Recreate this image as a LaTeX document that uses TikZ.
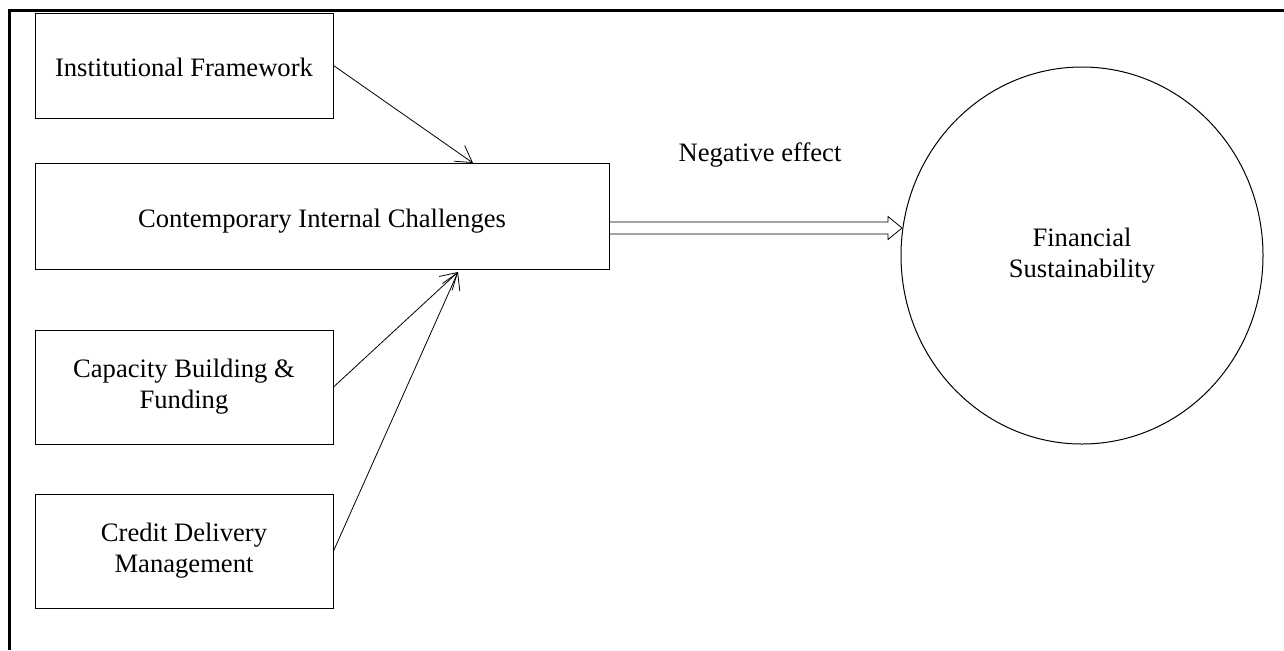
\documentclass[tikz,border=0pt]{standalone}
\usepackage{fontspec}
\setmainfont{Liberation Serif}
\usetikzlibrary{arrows.meta,shapes.geometric,calc}
\begin{document}
\begin{tikzpicture}[x=0.5pt,y=-0.5pt]
        \tikzstyle{caixa}=[draw=black, line width=0.5pt, rectangle, align=center, inner sep=0pt, font=\fontsize{13.3}{15.5}\selectfont]
        \tikzstyle{linha}=[text height=12pt, text depth=0.6pt]
        \tikzstyle{seta}=[line width=0.4pt, -{Straight Barb[length=8pt, width=9.5pt]}]

        \useasboundingbox (0,0) rectangle (1284,650);

        % moldura
        \draw[line width=1.5pt] (9,650) -- (9,10) -- (1284,10);

        \node[caixa, linha, minimum width=149pt, minimum height=52.5pt] (inst) at (184,65.5) {Institutional Framework};
        \node[caixa, linha, minimum width=287pt, minimum height=53pt] (ch) at (322,216) {Contemporary Internal Challenges};
        \node[caixa, minimum width=149pt, minimum height=57pt] (cap) at (184,387) {Capacity Building \&\\Funding};
        \node[caixa, minimum width=149pt, minimum height=57pt] (cred) at (184,551) {Credit Delivery\\Management};

        \node[caixa, ellipse, minimum width=181pt, minimum height=188.5pt] (fs) at (1082,255.5) {Financial\\Sustainability};

        \coordinate (p1) at (473,163);
        \coordinate (p2) at (458,272);

        \draw[seta] (inst.east) -- (p1);
        \draw[seta] (cap.east) -- (p2);
        \draw[seta] (cred.east) -- (p2);

        % seta dupla
        \coordinate (s) at ($(ch.east)+(0,12)$);
        \coordinate (t) at (902,228);
        \draw[line width=0.4pt] ($(s)+(0,-6)$) -- ($(t)+(-14,-6)$) -- ($(t)+(-14,-11.5)$) -- (t)
              -- ($(t)+(-14,11.5)$) -- ($(t)+(-14,6)$) -- ($(s)+(0,6)$);

        \node[font=\fontsize{13.3}{15.5}\selectfont] (neg) at (760,155) {Negative effect};
\end{tikzpicture}
\end{document}
